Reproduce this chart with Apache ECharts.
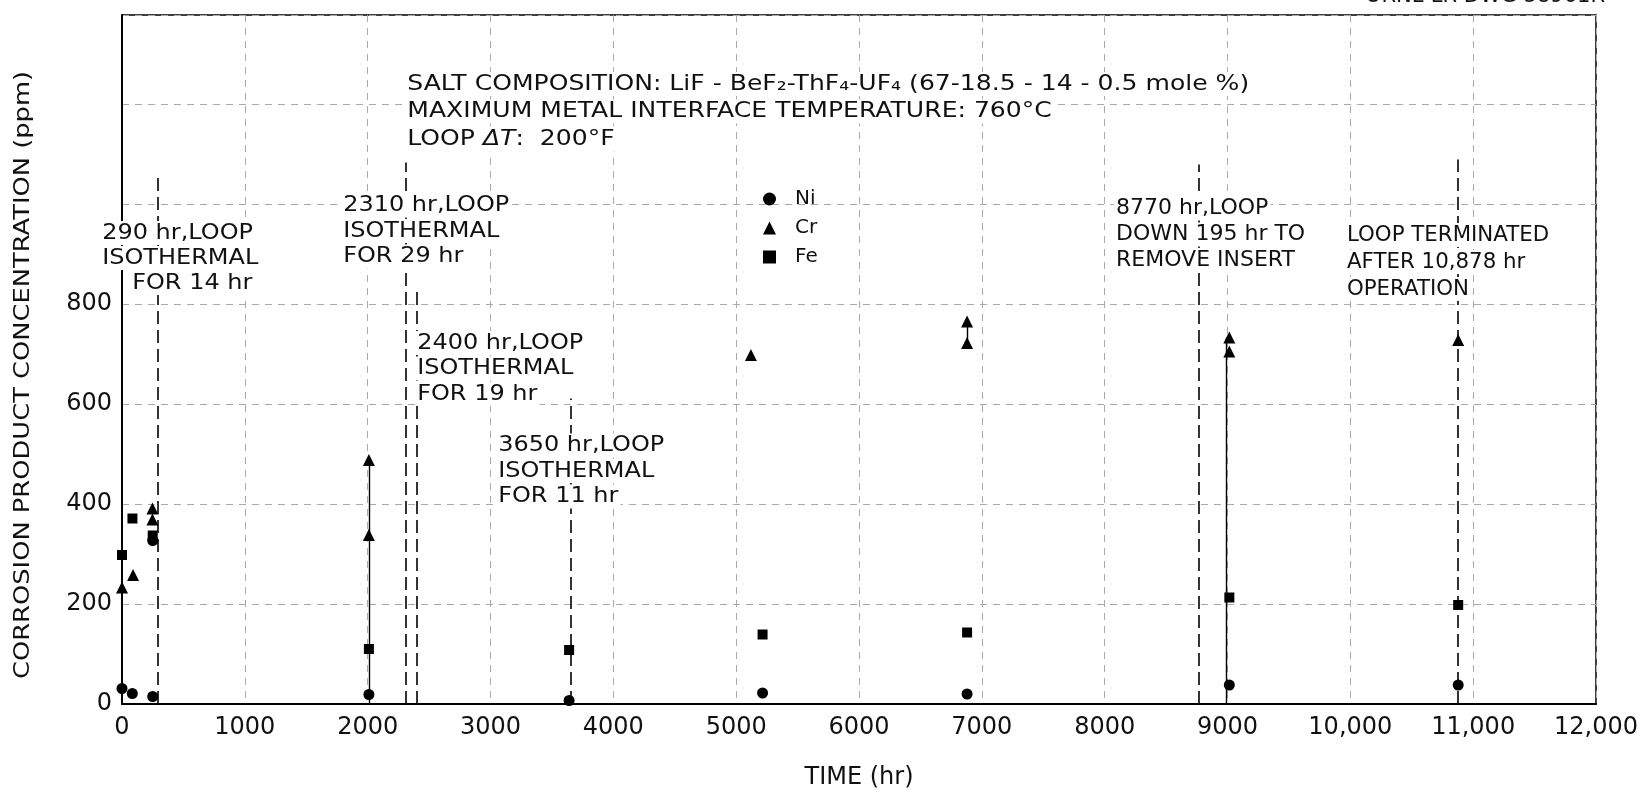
<!DOCTYPE html>
<html>
<head>
<meta charset="utf-8">
<script src="https://cdn.jsdelivr.net/npm/echarts@6/dist/echarts.min.js"></script>
<style>
  html, body { margin: 0; padding: 0; background: #fff; }
  #chart { width: 1644px; height: 792px; }
</style>
</head>
<body>
<div id="chart"></div>
<script>
var FONT = '"DejaVu Sans", sans-serif';

// samples: [time hr, ppm]
var niPoints = [[0, 31], [84, 21], [250, 15], [250, 327], [2010, 19], [3640, 7], [5215, 22], [6880, 20], [9015, 38], [10878, 38]];
var crPoints = [[0, 233], [90, 258], [248, 369], [248, 391], [2010, 338], [2010, 488], [5120, 698], [6880, 722], [6880, 765], [9015, 705], [9015, 733], [10878, 728]];
var fePoints = [[0, 298], [85, 371], [250, 337], [2010, 110], [3640, 108], [5215, 139], [6880, 143], [9015, 213], [10878, 198]];

// loop events (dashed markers) and how far up each marker is drawn, ppm
var eventTimes = [290, 2310, 2400, 3650, 8770, 10878];
var eventTops = [1052, 1083, 827, 611, 1079, 1089];

// solid ties between samples of the same time: [hr, from ppm, to ppm]
var ties = [[2010, 0, 488], [6880, 722, 765], [8990, 0, 733]];

var xTickLabels = ['0', '1000', '2000', '3000', '4000', '5000', '6000', '7000', '8000', '9000', '10,000', '11,000', '12,000'];
var yTickLabels = ['0', '200', '400', '600', '800'];

var chart = echarts.init(document.getElementById('chart'));

// one text line per element, white box behind so lines break like on the drawing
function note(x, y, step, sx, lines) {
    return lines.map(function (l, i) {
        var t = typeof l === 'string' ? l : l.t;
        var dx = typeof l === 'string' ? 0 : l.dx;
        return {
            type: 'text', x: x + dx, y: y + i * step, scaleX: sx, z: 100,
            style: {
                text: t, fontSize: 22, fontFamily: FONT, fill: '#111',
                align: 'left', verticalAlign: 'middle',
                backgroundColor: '#fff', padding: [1, 2]
            }
        };
    });
}

var graphics = [].concat(
    note(100, 233, 25, 1.09, ['290 hr,LOOP', 'ISOTHERMAL', { t: 'FOR 14 hr', dx: 30 }]),
    note(341, 205.5, 25.5, 1.09, ['2310 hr,LOOP', 'ISOTHERMAL', 'FOR 29 hr']),
    note(415, 343, 25.5, 1.09, ['2400 hr,LOOP', 'ISOTHERMAL', 'FOR 19 hr']),
    note(496, 445.6, 25.5, 1.09, ['3650 hr,LOOP', 'ISOTHERMAL', 'FOR 11 hr']),
    note(1114, 208.6, 26, 1.0, ['8770 hr,LOOP', 'DOWN 195 hr TO', 'REMOVE INSERT']),
    note(1345, 235, 27, 0.97, ['LOOP TERMINATED', 'AFTER 10,878 hr', 'OPERATION']),
    note(405, 84, 27.5, 1.14, [
        'SALT COMPOSITION: LiF - BeF\u2082-ThF\u2084-UF\u2084 (67-18.5 - 14 - 0.5 mole %)',
        'MAXIMUM METAL INTERFACE TEMPERATURE: 760\u00b0C'
    ]),
    [{
        type: 'text', x: 405, y: 139.5, scaleX: 1.14, z: 100,
        style: {
            text: 'LOOP {i|\u0394T}:  200\u00b0F', fontSize: 22, fontFamily: FONT, fill: '#111',
            align: 'left', verticalAlign: 'middle', backgroundColor: '#fff', padding: [1, 2],
            rich: { i: { fontSize: 22, fontFamily: FONT, fontStyle: 'italic', fill: '#111' } }
        }
    }, {
        type: 'text', x: 1365, y: -3, z: 100,
        style: { text: 'ORNL-LR-DWG 58961R', fontSize: 21, fontFamily: FONT, fill: '#111', align: 'left', verticalAlign: 'middle' }
    }, {
        type: 'text', x: 23, y: 375, rotation: Math.PI / 2, scaleX: 1.17, z: 100,
        style: {
            text: 'CORROSION PRODUCT CONCENTRATION (ppm)', fontSize: 22, fontFamily: FONT, fill: '#111',
            align: 'center', verticalAlign: 'middle'
        }
    }]
);

chart.setOption({
    animation: false,
    backgroundColor: '#fff',
    grid: {
        left: 122, right: 48, top: 15, bottom: 88,
        containLabel: false, outerBoundsMode: 'none',
        show: true, borderColor: '#000', borderWidth: 1.5
    },
    legend: {
        orient: 'vertical', left: 758, top: 184,
        itemWidth: 13, itemHeight: 13, itemGap: 9,
        selectedMode: false,
        textStyle: { fontFamily: FONT, fontSize: 20, color: '#111', padding: [0, 0, 0, 14] },
        data: [{ name: 'Ni', icon: 'circle' }, { name: 'Cr', icon: 'triangle' }, { name: 'Fe', icon: 'rect' }]
    },
    xAxis: {
        type: 'value', min: 0, max: 12000, interval: 1000,
        name: 'TIME (hr)', nameLocation: 'middle', nameGap: 62,
        nameTextStyle: { fontFamily: FONT, fontSize: 24, color: '#111' },
        axisLine: { lineStyle: { color: '#000', width: 2 } },
        axisTick: { show: false },
        axisLabel: {
            margin: 12, fontFamily: FONT, fontSize: 24, color: '#111',
            formatter: function (v) { return xTickLabels[Math.round(v / 1000)]; }
        },
        splitLine: { lineStyle: { color: '#aaa', width: 1, type: [7, 6] } }
    },
    yAxis: {
        type: 'value', min: 0, max: 1378, interval: 200,
        axisLine: { lineStyle: { color: '#000', width: 2 } },
        axisTick: { show: false },
        axisLabel: {
            margin: 10, fontFamily: FONT, fontSize: 24, color: '#111',
            formatter: function (v) { return yTickLabels[v / 200] || ''; }
        },
        splitLine: { lineStyle: { color: '#aaa', width: 1, type: [7, 6] } }
    },
    series: [
        {
            name: 'events', type: 'lines', coordinateSystem: 'cartesian2d', silent: true, z: 3,
            lineStyle: { color: '#000', width: 1.6, type: [13, 6], opacity: 1, curveness: 0 },
            data: eventTimes.map(function (t, i) { return { coords: [[t, 0], [t, eventTops[i]]] }; })
        },
        {
            name: 'ties', type: 'lines', coordinateSystem: 'cartesian2d', silent: true, z: 3,
            lineStyle: { color: '#000', width: 1.4, opacity: 1, curveness: 0 },
            data: ties.map(function (d) { return { coords: [[d[0], d[1]], [d[0], d[2]]] }; })
        },
        { name: 'Ni', type: 'scatter', symbol: 'circle', symbolSize: 11, z: 5, itemStyle: { color: '#000', opacity: 1 }, data: niPoints },
        { name: 'Cr', type: 'scatter', symbol: 'triangle', symbolSize: 12, z: 5, itemStyle: { color: '#000', opacity: 1 }, data: crPoints },
        { name: 'Fe', type: 'scatter', symbol: 'rect', symbolSize: 10, z: 5, itemStyle: { color: '#000', opacity: 1 }, data: fePoints }
    ],
    graphic: graphics
});
</script>
</body>
</html>
